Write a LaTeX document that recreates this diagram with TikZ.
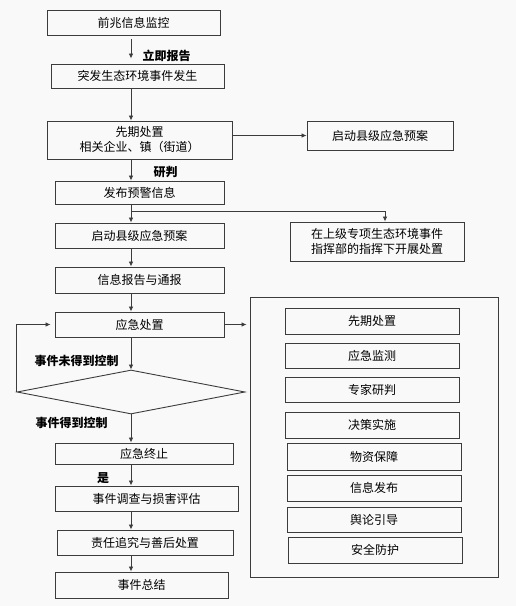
\documentclass[tikz,border=0pt]{standalone}
\usepackage{fontspec}
\usepackage{tikz}
\usepackage{xcolor}
\usetikzlibrary{arrows.meta,shapes.geometric}
\newfontfamily\cjk{Noto Sans CJK SC}
\definecolor{bgcol}{RGB}{249,249,249}
\definecolor{linecol}{RGB}{60,60,60}

\begin{document}
\begin{tikzpicture}[x=1pt, y=-1pt,
  box/.style={draw=linecol, line width=0.9pt, fill=bgcol, rectangle, inner sep=0pt,
    align=center, font=\cjk\fontsize{12}{15}\selectfont},
  tag/.style={font=\cjk\bfseries\fontsize{12}{14}\selectfont, inner sep=0pt},
  arr/.style={draw=linecol, line width=0.8pt, -{Latex[length=5pt,width=4.5pt]}},
  ln/.style={draw=linecol, line width=0.8pt}]
  \fill[bgcol] (0,0) rectangle (516,606);
  \useasboundingbox (0,0) rectangle (516,606);
  \coordinate (ax) at (131,0);

  % main column
  \node[box, minimum width=173pt, minimum height=25pt] (n1) at (133.5,22.5) {前兆信息监控};
  \node[box, minimum width=173pt, minimum height=24pt] (n2) at (137.5,76) {突发生态环境事件发生};
  \node[box, minimum width=185pt, minimum height=38pt] (n3) at (139.5,140) {先期处置\\相关企业、镇（街道）};
  \node[box, minimum width=169pt, minimum height=23pt] (n5) at (139.5,192.5) {发布预警信息};
  \node[box, minimum width=169pt, minimum height=25pt] (n6) at (139.5,235.5) {启动县级应急预案};
  \node[box, minimum width=169pt, minimum height=26pt] (n8) at (139.5,280) {信息报告与通报};
  \node[box, minimum width=169pt, minimum height=25pt] (n9) at (139.5,324.5) {应急处置};
  \node[draw=linecol, line width=0.9pt, diamond, minimum width=228pt, minimum height=44pt,
    inner sep=0pt] (dia) at (131,392) {};
  \node[box, minimum width=178pt, minimum height=21pt] (n10) at (144,453.5) {应急终止};
  \node[box, minimum width=183pt, minimum height=25pt] (n11) at (146.5,498.5) {事件调查与损害评估};
  \node[box, minimum width=176pt, minimum height=25pt] (n12) at (145,542.5) {责任追究与善后处置};
  \node[box, minimum width=173pt, minimum height=26pt] (n13) at (141.5,585) {事件总结};

  % right side
  \node[box, minimum width=146pt, minimum height=29pt] (n4) at (380,135.5) {启动县级应急预案};
  \node[box, minimum width=174pt, minimum height=39pt] (n7) at (377,241.5) {在上级专项生态环境事件\\指挥部的指挥下开展处置};

  % response measures
  \node[draw=linecol, line width=0.9pt, minimum width=248pt, minimum height=280pt] (panel) at (374,437) {};
  \node[box, minimum width=174pt, minimum height=26pt] (m1) at (372,321) {先期处置};
  \node[box, minimum width=174pt, minimum height=25pt] (m2) at (372,355.5) {应急监测};
  \node[box, minimum width=174pt, minimum height=25pt] (m3) at (372,389.5) {专家研判};
  \node[box, minimum width=174pt, minimum height=26pt] (m4) at (372,425) {决策实施};
  \node[box, minimum width=174pt, minimum height=27pt] (m5) at (374,456.5) {物资保障};
  \node[box, minimum width=174pt, minimum height=26pt] (m6) at (374,488) {信息发布};
  \node[box, minimum width=174pt, minimum height=25pt] (m7) at (374,519.5) {舆论引导};
  \node[box, minimum width=174pt, minimum height=26pt] (m8) at (375,550) {安全防护};

  % labels
  \node[tag] (t1) at (166.5,56) {立即报告};
  \node[tag] (t2) at (165.5,172) {研判};
  \node[tag] (t3) at (76.5,361) {事件未得到控制};
  \node[tag] (t4) at (71.5,423) {事件得到控制};
  \node[tag] (t5) at (103,478) {是};

  % connectors
  \draw[arr, shorten <=4pt, shorten >=5pt] (ax |- n1.south) -- (ax |- n2.north);
  \draw[arr] (ax |- n2.south) -- (ax |- n3.north);
  \draw[arr] (n4.west -| n3.east) -- (n4.west);
  \draw[arr] (ax |- n3.south) -- (ax |- n5.north);
  \coordinate (split) at (131,211);
  \draw[ln] (ax |- n5.south) -- (split);
  \draw[arr] (split) -- (ax |- n6.north);
  \draw[arr] (split) -| ([xshift=8pt]n7.north);
  \draw[arr] (ax |- n6.south) -- (ax |- n8.north);
  \draw[arr] (ax |- n8.south) -- (ax |- n9.north);
  \draw[arr, shorten >=3pt] (n9.east) -- (n9.east -| panel.west);
  \draw[arr] (ax |- n9.south) -- (dia.north);
  \draw[arr, shorten >=4pt] (dia.west) |- (n9.west);
  \draw[arr] (dia.south) -- (ax |- n10.north);
  \draw[arr] (ax |- n10.south) -- (ax |- n11.north);
  \draw[arr] (ax |- n11.south) -- (ax |- n12.north);
  \draw[arr] (ax |- n12.south) -- (ax |- n13.north);
\end{tikzpicture}
\end{document}
